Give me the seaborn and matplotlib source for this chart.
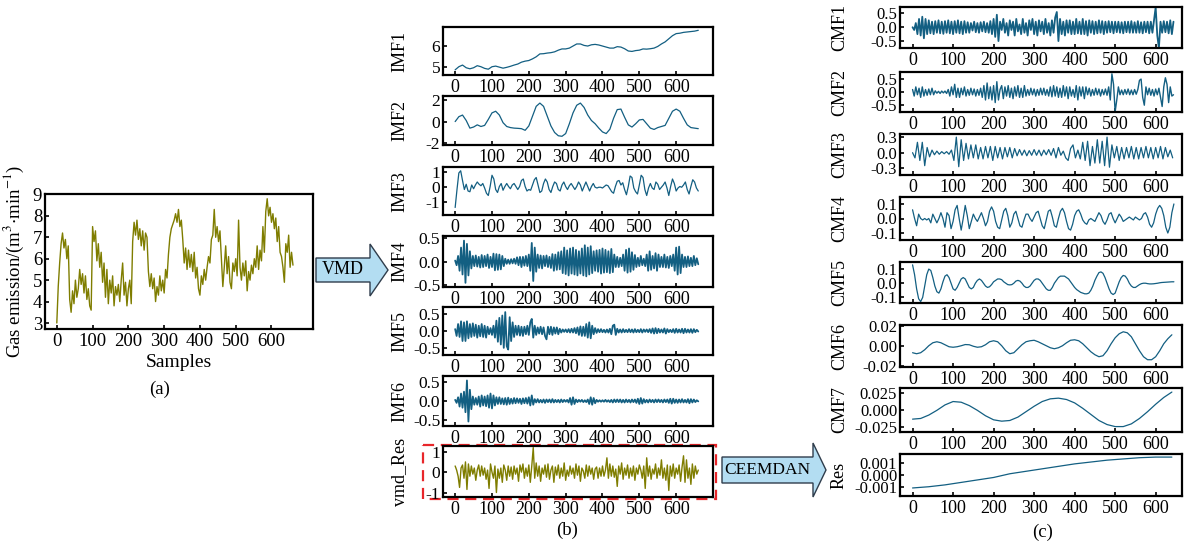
import numpy as np
import matplotlib
matplotlib.use("Agg")
import matplotlib.pyplot as plt
import seaborn as sns
from matplotlib.patches import Polygon, Rectangle
from matplotlib.ticker import FormatStrFormatter

# ---------------- data ----------------
# (a) gas emission, one value every 4 samples
gas = [3.0,4.7,5.8,6.7,7.2,6.5,6.9,6.0,6.6,4.1,3.5,4.5,3.9,5.0,4.2,4.6,5.5,4.8,5.3,4.4,
       5.2,4.1,4.6,3.8,3.6,7.5,6.8,7.3,5.9,6.7,5.6,6.3,4.9,5.8,4.2,5.5,3.9,5.0,4.4,5.2,
       3.8,4.7,4.3,4.8,4.0,5.0,5.8,4.3,4.9,3.8,4.6,5.0,3.9,6.8,7.7,7.1,7.8,6.9,7.4,6.6,
       7.3,6.4,7.2,7.0,5.4,4.7,5.3,4.6,5.1,4.0,4.7,4.3,5.2,4.5,5.0,4.4,5.5,5.1,6.2,7.0,
       7.4,7.6,7.8,8.1,7.7,8.3,7.5,7.8,6.9,5.8,6.5,5.5,6.4,5.6,6.2,5.4,6.3,5.1,5.6,4.6,
       4.3,5.2,4.8,5.5,5.0,5.6,6.1,5.8,6.9,7.1,8.3,7.0,7.5,6.8,7.3,6.0,4.7,5.6,6.6,5.3,
       6.1,4.9,4.6,5.8,5.4,6.0,5.2,7.8,5.6,5.0,5.8,5.2,5.9,4.5,5.4,5.0,5.7,5.3,6.0,5.6,
       6.6,5.5,6.4,5.9,7.5,6.3,8.2,8.8,8.0,8.4,7.7,8.1,7.4,7.9,6.8,7.5,6.3,6.1,5.6,4.9,
       6.7,6.3,7.1,5.6,6.3,5.7]
gas_step = 4

# (b) VMD modes
imf1 = [4.85,5.0,5.08,4.95,4.9,4.95,5.05,5.0,4.92,4.88,5.0,5.03,4.98,4.93,4.97,5.02,5.08,5.13,
        5.22,5.27,5.3,5.38,5.48,5.62,5.63,5.66,5.68,5.72,5.8,5.86,5.86,5.9,6.0,6.1,6.1,6.03,
        6.0,6.06,6.08,6.05,6.0,5.95,5.9,5.9,5.97,5.95,5.87,5.76,5.74,5.78,5.8,5.86,5.85,5.87,
        5.9,5.98,6.1,6.2,6.35,6.5,6.6,6.62,6.66,6.68,6.7,6.72,6.76]
imf1_step = 10

imf2 = [0.0,0.45,0.6,0.1,-0.6,-0.5,-0.3,-0.45,-0.35,0.2,0.8,0.95,0.6,-0.1,-0.45,-0.55,-0.6,
        -0.62,-0.65,-0.8,-0.4,0.5,1.4,1.7,1.4,0.5,-0.4,-1.0,-1.3,-1.35,-1.1,-0.2,0.8,1.5,1.7,
        1.3,0.6,0.1,-0.2,-0.6,-0.95,-1.1,-0.7,0.3,1.1,1.15,0.4,-0.3,-0.5,-0.2,0.15,0.2,-0.2,
        -0.6,-0.72,-0.55,-0.45,-0.35,0.3,0.95,1.15,0.95,0.3,-0.3,-0.55,-0.6,-0.65]
imf2_step = 10

imf3 = [-1.4,-0.2,0.9,1.05,0.4,-0.2,0.15,-0.3,-0.35,0.1,-0.15,0.1,0.3,0.15,0.05,0.2,-0.1,
        -0.45,-0.6,0.0,0.75,0.5,-0.2,-0.4,0.0,0.2,-0.25,0.0,0.2,0.0,-0.15,0.1,0.2,0.0,-0.2,
        0.0,0.4,0.5,0.0,-0.3,-0.2,-0.25,0.1,0.45,0.6,0.1,-0.4,-0.3,0.2,0.5,0.3,-0.2,-0.4,0.0,
        0.3,0.2,-0.2,-0.3,0.1,0.3,0.0,-0.2,0.05,0.2,0.0,-0.2,0.0,0.3,0.1,-0.3,0.0,0.3,0.0,
        -0.3,0.0,0.2,-0.05,-0.1,-0.05,-0.05,-0.1,0.0,0.1,0.05,-0.15,-0.35,-0.45,0.0,0.35,0.4,
        0.1,0.25,-0.2,-0.55,0.0,0.7,0.6,-0.1,-0.35,-0.5,0.1,0.75,0.6,-0.2,-0.6,-0.1,0.2,-0.1,
        -0.2,0.3,0.15,-0.2,-0.05,0.1,0.3,-0.1,-0.6,0.0,0.5,0.2,-0.3,-0.1,0.0,-0.05,0.1,0.3,
        -0.2,-0.5,0.0,0.45,0.3,-0.1,-0.3]
imf3_step = 5

imf4 = [0.02,-0.08,0.12,-0.2,0.3,-0.28,0.45,-0.46,0.38,-0.3,
        0.22,-0.15,0.12,-0.1,0.13,-0.11,0.1,-0.13,0.14,-0.12,
        0.12,-0.1,0.15,-0.14,0.1,-0.12,0.17,-0.19,0.16,-0.18,
        0.15,-0.17,0.12,-0.1,0.06,-0.05,0.04,-0.05,0.05,-0.04,
        0.06,-0.05,0.09,-0.08,0.1,-0.12,0.1,-0.09,0.12,-0.1,
        0.15,-0.2,0.4,-0.42,0.3,-0.22,0.15,-0.14,0.13,-0.15,
        0.12,-0.1,0.13,-0.12,0.1,-0.14,0.16,-0.2,0.15,-0.18,
        0.2,-0.17,0.22,-0.25,0.3,-0.27,0.24,-0.3,0.28,-0.26,
        0.3,-0.28,0.25,-0.3,0.22,-0.26,0.28,-0.3,0.35,-0.32,
        0.3,-0.28,0.33,-0.25,0.22,-0.2,0.24,-0.22,0.25,-0.26,
        0.28,-0.24,0.25,-0.23,0.22,-0.25,0.27,-0.23,0.15,-0.12,
        0.1,-0.12,0.08,-0.1,0.15,-0.2,0.25,-0.24,0.28,-0.22,
        0.2,-0.18,0.14,-0.12,0.08,-0.1,0.12,-0.08,0.06,-0.1,
        0.15,-0.2,0.22,-0.18,0.12,-0.15,0.18,-0.2,0.15,-0.12,
        0.1,-0.12,0.15,-0.13,0.1,-0.14,0.12,-0.1,0.15,-0.2,
        0.3,-0.28,0.32,-0.25,0.15,-0.12,0.1,-0.12,0.11,-0.1,
        0.08,-0.1,0.12,-0.08,0.07,-0.06]
imf4_step = 4

imf5 = [0.05,-0.15,0.2,-0.18,0.28,-0.3,0.25,-0.3,0.28,-0.22,
        0.2,-0.18,0.22,-0.15,0.18,-0.2,0.15,-0.16,0.2,-0.18,
        0.15,-0.2,0.12,-0.1,0.08,-0.12,0.15,-0.2,0.3,-0.32,
        0.38,-0.4,0.45,-0.5,0.55,-0.45,-0.55,0.4,-0.3,0.25,
        -0.18,0.15,-0.12,0.15,-0.14,0.12,-0.15,0.12,-0.1,0.15,
        -0.12,0.25,0.35,-0.2,0.15,-0.12,0.1,-0.08,0.12,-0.1,
        0.1,-0.15,-0.25,0.12,-0.1,0.12,-0.12,0.1,-0.08,0.1,
        -0.1,0.06,-0.05,0.04,-0.03,0.04,-0.04,0.05,-0.05,0.06,
        -0.05,0.08,-0.07,0.1,-0.12,0.13,-0.15,0.12,-0.15,0.2,
        -0.2,0.25,-0.22,0.15,-0.1,0.08,-0.06,0.05,-0.04,0.05,
        -0.04,0.03,-0.05,0.04,-0.05,0.06,-0.1,0.15,0.18,-0.12,
        0.06,-0.05,0.04,-0.05,0.05,-0.04,0.03,-0.04,0.05,-0.04,
        0.04,-0.05,0.05,-0.04,0.03,-0.04,0.05,-0.05,0.04,-0.03,
        0.04,-0.04,0.05,-0.06,0.07,-0.08,0.08,-0.07,0.06,-0.05,
        0.04,-0.05,0.07,-0.08,0.05,-0.04,0.03,-0.04,0.05,-0.06,
        0.06,-0.05,0.04,-0.05,0.06,-0.07,0.06,-0.05,0.04,-0.05,
        0.05,-0.06,0.05,-0.04,0.03,-0.02]
imf5_step = 4

imf6 = [0.03,-0.05,0.1,-0.15,0.2,-0.18,0.25,-0.3,0.55,-0.55,
        0.3,-0.22,0.12,-0.1,0.08,-0.1,0.12,-0.15,0.15,-0.12,
        0.12,-0.14,0.15,-0.18,0.2,-0.2,0.15,-0.12,0.1,-0.08,
        0.1,-0.08,0.07,-0.09,0.08,-0.1,0.09,-0.08,0.06,-0.07,
        0.08,-0.06,0.07,-0.05,0.06,-0.08,0.07,-0.06,0.08,-0.07,
        0.1,-0.12,0.15,-0.1,0.05,-0.04,0.05,-0.04,0.03,-0.04,
        0.04,-0.05,0.04,-0.03,0.04,-0.04,0.05,-0.04,0.03,-0.03,
        0.03,-0.04,0.04,-0.03,0.03,-0.02,0.03,-0.04,0.08,-0.1,
        0.1,-0.08,0.04,-0.03,0.03,-0.02,0.03,-0.03,0.02,-0.03,
        0.04,-0.08,0.1,-0.1,0.08,-0.06,0.03,-0.02,0.02,-0.02,
        0.02,-0.02,0.03,-0.02,0.02,-0.03,0.03,-0.04,0.04,-0.03,
        0.04,-0.03,0.04,-0.04,0.03,-0.04,0.04,-0.03,0.03,-0.04,
        0.04,-0.03,0.04,-0.05,0.06,-0.08,0.08,-0.07,0.05,-0.04,
        0.03,-0.04,0.04,-0.03,0.03,-0.04,0.04,-0.03,0.04,-0.03,
        0.03,-0.04,0.04,-0.03,0.04,-0.05,0.06,-0.07,0.06,-0.05,
        0.04,-0.05,0.04,-0.04,0.05,-0.04,0.03,-0.04,0.05,-0.06,
        0.05,-0.04,0.04,-0.03,0.02,-0.01]
imf6_step = 4

vmd_res = [0.3,0.1,-0.2,-0.75,0.2,0.35,-0.3,0.5,-0.85,0.4,
           -0.2,0.3,-0.1,0.2,-0.4,0.1,0.35,-0.2,0.3,-0.15,
           0.2,-0.35,0.1,-0.8,0.4,0.0,-0.3,0.3,-1.0,0.15,
           -0.3,0.2,-0.5,0.35,0.1,-0.4,0.3,-0.2,0.25,-0.35,
           0.3,-0.1,0.2,-0.45,0.35,0.0,0.4,-0.3,0.2,-0.2,
           0.35,-0.5,0.3,1.2,-0.3,0.45,-0.2,0.3,-0.45,0.2,
           -0.1,0.35,-0.25,0.4,-0.35,0.1,0.3,-0.5,0.25,-0.15,
           0.35,-0.3,0.2,-0.2,0.45,-0.4,0.1,-0.2,0.3,-0.1,
           0.2,-0.3,0.4,-0.15,0.3,-0.45,0.2,0.05,-0.3,0.35,
           -0.2,0.3,-0.1,0.2,-0.35,0.15,0.25,-0.3,0.2,-0.2,
           0.3,-0.2,0.1,0.7,-0.3,0.4,-0.2,0.3,-0.25,0.15,
           -0.7,0.3,-0.1,0.45,-0.35,0.2,-0.15,0.35,-0.3,0.2,
           -0.2,0.3,-0.4,0.2,-0.1,0.35,0.1,-0.3,0.3,-0.8,
           0.7,-0.2,0.3,-0.35,0.15,-0.1,0.4,-0.3,0.2,-0.15,
           0.6,-0.3,0.2,-0.4,0.35,-0.9,0.3,-0.2,0.4,-0.3,
           0.2,-0.1,0.35,-0.45,0.25,0.8,-0.5,0.6,-0.3,0.2,
           -0.6,0.4,-0.3,0.3,-0.1,0.1]
vmd_res_step = 4

# (c) CEEMDAN modes of vmd_Res
cmf1 = [0.0,-0.1,0.15,-0.25,0.3,-0.3,0.38,-0.4,0.3,-0.25,
        0.25,-0.22,0.2,-0.25,0.22,-0.2,0.25,-0.22,0.2,-0.24,
        0.22,-0.2,0.25,-0.22,0.2,-0.25,0.22,-0.2,0.25,-0.22,
        0.2,-0.25,0.22,-0.2,0.18,-0.2,0.15,-0.12,0.2,-0.18,
        0.15,-0.2,0.18,-0.15,0.2,-0.18,0.15,-0.2,0.22,-0.25,
        0.3,-0.35,0.45,-0.5,0.2,-0.1,0.3,-0.2,0.15,-0.3,
        0.25,-0.1,0.2,-0.3,0.3,-0.15,0.1,-0.25,0.3,-0.2,
        0.15,-0.3,0.25,-0.1,0.3,-0.25,0.2,-0.3,0.25,-0.15,
        0.2,-0.25,0.3,-0.2,0.15,-0.3,0.25,-0.2,0.35,0.55,
        -0.5,0.3,-0.25,0.2,-0.3,0.25,-0.2,0.25,-0.25,0.2,
        -0.25,0.3,-0.22,0.2,-0.25,0.3,-0.25,0.22,-0.3,0.25,
        -0.2,0.22,-0.25,0.2,-0.22,0.25,-0.2,0.22,-0.25,0.2,
        -0.2,0.22,-0.18,0.2,-0.22,0.2,-0.18,0.2,-0.2,0.18,
        -0.22,0.2,-0.18,0.2,-0.2,0.22,-0.2,0.18,-0.2,0.22,
        -0.2,0.18,-0.22,0.2,-0.18,0.2,-0.22,0.2,-0.2,0.25,
        0.72,-0.3,-0.75,0.2,-0.2,0.22,-0.18,0.2,-0.22,0.25,
        -0.25,0.2]
cmf1_step = 4

cmf2 = [0.1,-0.15,0.2,-0.1,0.15,-0.2,0.2,-0.15,0.1,-0.12,
        0.12,-0.1,0.15,-0.1,0.05,-0.04,0.03,-0.05,0.04,-0.03,
        0.04,-0.05,0.1,-0.15,0.2,-0.1,0.3,-0.2,0.15,-0.2,
        0.15,-0.1,0.2,-0.15,0.1,-0.12,0.15,-0.1,0.12,-0.15,
        0.1,-0.12,0.15,-0.2,0.25,-0.3,0.35,-0.25,0.2,-0.3,
        0.25,-0.4,0.4,-0.3,0.1,0.25,-0.25,0.2,-0.15,0.25,
        -0.2,0.15,-0.25,0.2,-0.15,0.25,-0.2,0.15,-0.2,0.25,
        -0.15,0.1,-0.12,0.15,-0.1,0.12,-0.15,0.1,-0.12,0.15,
        -0.1,0.15,-0.12,0.1,-0.15,0.2,-0.18,0.25,-0.15,0.2,
        -0.2,0.15,-0.2,0.25,-0.15,0.2,-0.25,0.2,-0.15,0.1,
        -0.2,0.25,-0.3,0.2,-0.15,0.2,-0.25,0.2,-0.1,0.15,
        -0.15,0.1,-0.12,0.15,-0.1,0.12,-0.15,0.1,-0.1,0.12,
        -0.12,0.2,-0.3,0.7,0.3,-0.75,-0.3,0.2,-0.1,0.08,
        -0.1,0.1,-0.08,0.12,-0.1,0.08,-0.1,0.1,-0.08,0.1,
        0.45,0.5,-0.2,-0.5,0.2,-0.1,0.15,-0.12,0.1,-0.15,
        0.12,-0.1,0.15,-0.2,-0.55,0.2,0.55,0.3,-0.4,0.2,
        -0.15,-0.1]
cmf2_step = 4

cmf3 = [0.0,-0.1,0.2,-0.15,0.2,-0.25,0.1,-0.08,0.05,-0.04,
        0.03,-0.03,0.02,-0.02,0.02,-0.03,0.05,-0.15,0.3,-0.27,
        0.25,-0.15,0.18,-0.12,0.15,-0.1,0.15,-0.12,0.1,-0.12,
        0.12,-0.1,0.12,-0.15,0.12,-0.1,0.1,-0.12,0.1,-0.08,
        0.1,-0.1,0.08,-0.06,0.06,-0.05,0.05,-0.06,0.04,-0.05,
        0.06,-0.05,0.05,-0.06,0.05,-0.04,0.06,-0.05,0.08,-0.1,
        0.1,-0.05,0.03,-0.1,-0.15,0.08,0.15,-0.1,0.05,-0.12,
        0.2,-0.15,0.22,-0.25,0.12,-0.2,0.25,-0.2,0.22,-0.25,
        0.3,-0.28,0.15,-0.1,0.12,-0.15,0.1,-0.12,0.1,-0.1,
        0.12,-0.12,0.1,-0.12,0.1,-0.1,0.12,-0.1,0.1,-0.12,
        0.1,-0.1,0.12,-0.12,0.1,-0.08,0.05,-0.1]
cmf3_step = 6

cmf4 = [0.06,0.0,-0.05,0.03,0.0,-0.01,0.0,-0.01,0.0,-0.03,0.03,0.0,-0.03,0.0,0.04,0.0,
        -0.06,0.04,0.02,-0.07,-0.02,0.06,0.09,0.0,-0.08,0.0,0.09,0.02,-0.07,-0.02,0.03,0.0,
        -0.02,0.01,0.04,0.0,-0.05,-0.02,0.05,0.08,0.05,-0.02,-0.06,-0.07,-0.01,0.05,0.07,0.02,
        -0.06,-0.03,0.03,0.05,0.0,-0.05,-0.06,-0.01,0.03,0.03,0.0,-0.02,0.01,0.04,0.05,0.0,
        -0.05,-0.07,-0.01,0.05,0.06,0.01,-0.05,-0.06,0.0,0.05,0.07,0.04,-0.02,-0.07,-0.08,-0.04,
        0.02,0.05,0.06,0.03,-0.01,-0.03,-0.04,-0.01,0.0,-0.01,-0.02,0.01,0.04,0.02,-0.02,-0.04,
        -0.01,0.03,0.04,0.0,-0.03,0.0,0.03,0.01,-0.02,-0.01,0.0,0.01,0.0,-0.01,0.01,0.0,
        -0.01,0.0,0.03,0.04,0.01,-0.04,-0.06,-0.03,0.03,0.07,0.09,0.07,0.02,-0.06,-0.1,-0.06,
        0.04,0.1]
cmf4_step = 5

cmf5 = [0.13,0.06,-0.04,-0.11,-0.13,-0.1,-0.02,0.06,0.1,0.09,0.04,-0.02,-0.06,-0.07,-0.04,
        0.01,0.05,0.06,0.04,0.0,-0.04,-0.05,-0.03,0.0,0.03,0.04,0.03,0.0,-0.03,-0.04,-0.03,
        0.0,0.02,0.03,0.02,0.0,-0.02,-0.03,-0.025,-0.01,0.01,0.02,0.03,0.03,0.025,0.01,0.0,
        -0.01,-0.012,-0.01,0.0,0.015,0.02,0.015,0.0,-0.02,-0.03,-0.03,-0.02,0.0,0.02,0.03,
        0.03,0.02,0.0,-0.02,-0.04,-0.05,-0.05,-0.03,0.0,0.02,0.04,0.05,0.05,0.05,0.04,0.03,
        0.01,-0.01,-0.03,-0.045,-0.055,-0.065,-0.07,-0.075,-0.075,-0.07,-0.05,-0.02,0.02,
        0.05,0.075,0.08,0.07,0.04,0.0,-0.04,-0.07,-0.08,-0.07,-0.03,0.01,0.04,0.055,0.05,
        0.03,0.0,-0.02,-0.03,-0.03,-0.02,-0.01,-0.003,0.0,0.0,-0.003,-0.005,-0.005,-0.004,
        -0.002,0.0,0.003,0.005,0.006,0.007,0.008,0.009,0.01,0.01]
cmf5_step = 5

cmf6 = [-0.007,-0.008,-0.007,-0.004,0.0,0.003,0.004,0.003,0.001,-0.001,-0.0015,-0.001,0.0,
        0.0012,0.001,-0.0005,-0.0015,-0.001,0.001,0.004,0.005,0.004,0.0,-0.005,-0.008,-0.007,
        -0.003,0.001,0.004,0.005,0.0055,0.004,0.002,0.0,-0.002,-0.003,-0.002,0.0,0.003,0.0055,
        0.006,0.005,0.002,-0.002,-0.006,-0.009,-0.011,-0.01,-0.005,0.002,0.008,0.012,0.014,
        0.013,0.009,0.002,-0.005,-0.011,-0.014,-0.014,-0.011,-0.005,0.002,0.007,0.011]
cmf6_step = 10

cmf7 = [-0.013,-0.012,-0.007,0.0,0.008,0.013,0.012,0.007,0.0,-0.008,-0.014,-0.016,-0.015,
        -0.01,-0.002,0.006,0.013,0.017,0.018,0.016,0.011,0.003,-0.006,-0.015,-0.021,-0.024,
        -0.024,-0.02,-0.012,-0.002,0.009,0.019,0.027]
cmf7_step = 20

res = [-0.00105,-0.00095,-0.0008,-0.0006,-0.0004,-0.0002,0.0001,0.0003,0.0005,0.0007,
       0.0009,0.00105,0.0012,0.0013,0.0014,0.00145,0.00145]
res_step = 40

x_ticks = [0, 100, 200, 300, 400, 500, 600]

# ---------------- style ----------------
sns.set_theme(style="ticks")
plt.rcParams['font.family'] = ['Liberation Serif', 'DejaVu Serif']
plt.rcParams['mathtext.fontset'] = 'stix'
plt.rcParams['axes.unicode_minus'] = False
plt.rcParams.update({
    'xtick.direction': 'in', 'ytick.direction': 'in',
    'axes.linewidth': 1.6, 'xtick.major.width': 1.2, 'ytick.major.width': 1.2,
    'xtick.major.size': 3, 'ytick.major.size': 3,
    'axes.edgecolor': 'black', 'xtick.color': 'black', 'ytick.color': 'black',
    'text.color': 'black', 'axes.labelcolor': 'black',
    'xtick.major.pad': 3.0, 'ytick.major.pad': 2.0,
})

BLUE = '#135f82'
OLIVE = '#7f7d00'

W, H = 1189, 545
fig = plt.figure(figsize=(W / 100, H / 100), dpi=100)


def add_ax(l, t, r, b):
    return fig.add_axes([l / W, 1 - b / H, (r - l) / W, (b - t) / H])


def panel(box, values, step, color, lw, xlim, ylim, yticks, fmt, label,
          label_x, fs_x=13, fs_y=12, fs_label=13):
    ax = add_ax(*box)
    x = np.arange(len(values)) * step
    sns.lineplot(x=x, y=values, ax=ax, color=color, linewidth=lw,
                 estimator=None, sort=False)
    ax.set_xlim(*xlim)
    ax.set_ylim(*ylim)
    ax.set_xticks(x_ticks)
    ax.set_yticks(yticks)
    ax.yaxis.set_major_formatter(FormatStrFormatter(fmt))
    ax.tick_params(axis='x', labelsize=fs_x)
    ax.tick_params(axis='y', labelsize=fs_y)
    ax.set_ylabel(label, fontsize=fs_label)
    ax.yaxis.set_label_coords(label_x, 0.5)
    ax.set_xlabel('')
    return ax


# (a)
axa = panel((45, 194, 313, 329), gas, gas_step, OLIVE, 1.0, (-33, 716), (2.72, 9.02),
            [3, 4, 5, 6, 7, 8, 9], '%d', r'Gas emission/(m$^{3}$$\cdot$min$^{-1}$)',
            -0.07, fs_x=13.5, fs_y=13.5, fs_label=13.5)
axa.set_xlabel('Samples', fontsize=14, labelpad=3)
fig.text(160 / W, 1 - 389 / H, '(a)', fontsize=13.5, ha='center', va='center')

# (b)
bx = (-33, 700)
lx_b = -0.13
DENSE = 1.3
panel((443, 27, 713, 75), imf1, imf1_step, BLUE, 0.9, bx, (4.6, 6.92), [5, 6], '%d', 'IMF1', lx_b, fs_y=12.5)
panel((443, 96, 713, 145), imf2, imf2_step, BLUE, 0.9, bx, (-2.15, 2.35), [-2, 0, 2], '%d', 'IMF2', lx_b, fs_y=12.5)
panel((443, 167, 713, 215), imf3, imf3_step, BLUE, 0.9, bx, (-1.9, 1.3), [-1, 0, 1], '%d', 'IMF3', lx_b, fs_y=12.5)
panel((443, 236, 713, 287), imf4, imf4_step, BLUE, DENSE, bx, (-0.55, 0.55), [-0.5, 0, 0.5], '%.1f', 'IMF4', lx_b, fs_y=12.5)
panel((443, 307, 713, 355), imf5, imf5_step, BLUE, DENSE, bx, (-0.71, 0.7), [-0.5, 0, 0.5], '%.1f', 'IMF5', lx_b, fs_y=12.5)
panel((443, 376, 713, 426), imf6, imf6_step, BLUE, DENSE, bx, (-0.67, 0.67), [-0.5, 0, 0.5], '%.1f', 'IMF6', lx_b, fs_y=12.5)
panel((443, 446, 713, 497), vmd_res, vmd_res_step, OLIVE, 1.0, bx, (-1.22, 1.28), [-1, 0, 1], '%d', 'vmd_Res', lx_b, fs_y=12.5)
fig.text(567 / W, 1 - 530 / H, '(b)', fontsize=13.5, ha='center', va='center')

# (c)
cx = (-31, 665)
lx_c = -0.185
panel((900, 7, 1182, 48), cmf1, cmf1_step, BLUE, DENSE, cx, (-0.75, 0.73), [-0.5, 0, 0.5], '%.1f', 'CMF1', lx_c)
panel((900, 72, 1182, 112), cmf2, cmf2_step, BLUE, 1.0, cx, (-0.76, 0.77), [-0.5, 0, 0.5], '%.1f', 'CMF2', lx_c)
panel((900, 134, 1182, 175), cmf3, cmf3_step, BLUE, 0.9, cx, (-0.43, 0.36), [-0.3, 0, 0.3], '%.1f', 'CMF3', lx_c)
panel((900, 197, 1182, 240), cmf4, cmf4_step, BLUE, 0.9, cx, (-0.148, 0.148), [-0.1, 0, 0.1], '%.1f', 'CMF4', lx_c)
panel((900, 262, 1182, 303), cmf5, cmf5_step, BLUE, 0.9, cx, (-0.14, 0.15), [-0.1, 0, 0.1], '%.1f', 'CMF5', lx_c)
panel((900, 325, 1182, 367), cmf6, cmf6_step, BLUE, 0.9, cx, (-0.0213, 0.0208), [-0.02, 0, 0.02], '%.2f', 'CMF6', lx_c)
panel((900, 388, 1182, 432), cmf7, cmf7_step, BLUE, 0.9, cx, (-0.032, 0.033), [-0.025, 0, 0.025], '%.3f', 'CMF7', lx_c)
panel((900, 454, 1182, 496), res, res_step, BLUE, 0.9, cx, (-0.0017, 0.0017), [-0.001, 0, 0.001], '%.3f', 'Res', lx_c)
fig.text(1043 / W, 1 - 532 / H, '(c)', fontsize=13.5, ha='center', va='center')

# ---------------- overlay: arrows and dashed frame ----------------
ov = fig.add_axes([0, 0, 1, 1], zorder=-1)
ov.set_xlim(0, W)
ov.set_ylim(H, 0)
ov.axis('off')

ARROW_FC = '#b3ddf2'
ARROW_EC = '#2f3d4c'
vmd_arrow = [(316, 258), (370, 258), (370, 244), (388, 270), (370, 296), (370, 282), (316, 282)]
ov.add_patch(Polygon(vmd_arrow, closed=True, fc=ARROW_FC, ec=ARROW_EC, lw=1.0))
ov.text(343, 270, 'VMD', fontsize=13, ha='center', va='center')

ce_arrow = [(722, 457), (813, 457), (813, 443), (826, 470), (813, 497), (813, 483), (722, 483)]
ov.add_patch(Polygon(ce_arrow, closed=True, fc=ARROW_FC, ec=ARROW_EC, lw=1.0))
ov.text(767, 470, 'CEEMDAN', fontsize=12.5, ha='center', va='center')

ov.add_patch(Rectangle((423, 445), 293, 54, fill=False, ec='#e8262a', lw=1.6,
                       linestyle=(0, (5, 3))))

fig.savefig('out.png', dpi=100)
